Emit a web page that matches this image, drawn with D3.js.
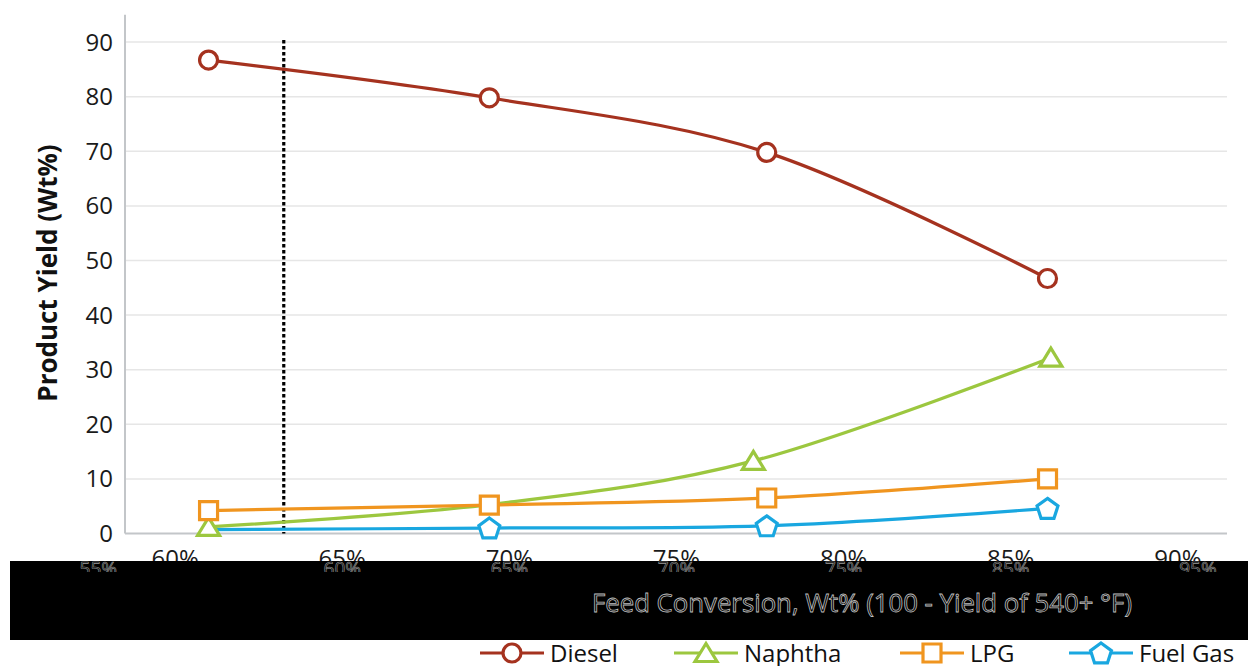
<!DOCTYPE html>
<html><head><meta charset="utf-8">
<script src="https://cdn.jsdelivr.net/npm/d3@7"></script>
<style>
html,body{margin:0;padding:0;background:#fff;}
svg{display:block;font-family:"Open Sans",sans-serif;}
</style></head>
<body>
<svg id="chart" width="1248" height="666"></svg>
<script>
// ---- data ----
const xTickValues = [60, 65, 70, 75, 80, 85, 90];
const xTickLabels = ["60%", "65%", "70%", "75%", "80%", "85%", "90%"];
const ghostTickPos = [57.7, 65.0, 70.0, 75.0, 80.0, 85.0, 90.6];
const ghostTickLabels = ["55%", "60%", "65%", "70%", "75%", "85%", "95%"];
const yTickValues = [0, 10, 20, 30, 40, 50, 60, 70, 80, 90];

const dieselX = [61.0, 69.4, 77.7, 86.1];
const dieselY = [86.7, 79.8, 69.8, 46.7];
const naphthaX = [61.0, 69.4, 77.3, 86.2];
const naphthaY = [1.2, 5.3, 13.3, 32.2];
const naphthaMarker = [true, false, true, true];
const lpgX = [61.0, 69.4, 77.7, 86.1];
const lpgY = [4.2, 5.2, 6.5, 10.0];
const fuelGasX = [61.0, 69.4, 77.7, 86.1];
const fuelGasY = [0.7, 1.0, 1.4, 4.6];
const fuelGasMarker = [false, true, true, true];
const cutLineX = 63.25;

const seriesNames = ["Diesel", "Naphtha", "LPG", "Fuel Gas"];
const yTitle = "Product Yield (Wt%)";
const xTitle = "Feed Conversion, Wt% (100 - Yield of 540+ °F)";

// ---- layout ----
const svg = d3.select("#chart");
const mLeft = 125, mRight = 1227, mTop = 14.8, mBottom = 533.5;
const x = d3.scaleLinear().domain([58.5, 91.47]).range([mLeft, mRight]);
const y = d3.scaleLinear().domain([0, 95]).range([mBottom, mTop]);

const colors = {Diesel: "#a5321f", Naphtha: "#9cc73f", LPG: "#f0951f", "Fuel Gas": "#19a7e0"};

// grid
svg.append("g").selectAll("line").data(yTickValues.filter(v => v > 0)).join("line")
  .attr("x1", mLeft).attr("x2", mRight)
  .attr("y1", d => y(d)).attr("y2", d => y(d))
  .attr("stroke", "#e6e6e6").attr("stroke-width", 1.5);

// axes lines
svg.append("line").attr("x1", mLeft).attr("x2", mLeft).attr("y1", mTop).attr("y2", mBottom)
  .attr("stroke", "#c3c6c9").attr("stroke-width", 2);
svg.append("line").attr("x1", mLeft).attr("x2", mRight).attr("y1", mBottom).attr("y2", mBottom)
  .attr("stroke", "#c3c6c9").attr("stroke-width", 2);

// y tick labels
svg.append("g").selectAll("text").data(yTickValues).join("text")
  .attr("x", 113).attr("y", d => y(d)).attr("dy", "0.35em")
  .attr("text-anchor", "end").attr("font-size", 24).attr("fill", "#1a1a1a")
  .text(d => d);

// y title
svg.append("text").attr("transform", "translate(57,273) rotate(-90)")
  .attr("text-anchor", "middle").attr("font-size", 26).attr("font-weight", "bold")
  .attr("fill", "#111").text(yTitle);

// x tick labels
svg.append("g").selectAll("text").data(xTickValues).join("text")
  .attr("x", d => x(d)).attr("y", 567)
  .attr("text-anchor", "middle").attr("font-size", 24).attr("fill", "#1a1a1a")
  .text((d, i) => xTickLabels[i]);

// dotted vertical line
svg.append("line").attr("x1", x(cutLineX)).attr("x2", x(cutLineX))
  .attr("y1", 40).attr("y2", mBottom)
  .attr("stroke", "#000").attr("stroke-width", 3.2).attr("stroke-dasharray", "3.5,2.5");

// series
const curve = d3.curveCardinal.tension(0);
const line = d3.line().x(d => x(d[0])).y(d => y(d[1])).curve(curve);
const series = [
  {name: "Diesel", xs: dieselX, ys: dieselY, shape: "circle", show: dieselX.map(() => true)},
  {name: "Naphtha", xs: naphthaX, ys: naphthaY, shape: "triangle", show: naphthaMarker},
  {name: "LPG", xs: lpgX, ys: lpgY, shape: "square", show: lpgX.map(() => true)},
  {name: "Fuel Gas", xs: fuelGasX, ys: fuelGasY, shape: "pentagon", show: fuelGasMarker}
];

function shapePath(shape) {
  if (shape === "circle") return d3.symbol(d3.symbolCircle, Math.PI * 81)();
  if (shape === "square") return "M-9,-9H9V9H-9Z";
  if (shape === "triangle") return "M0,-9.5L11,8.5L-11,8.5Z";
  const R = 11, pts = [];
  for (let k = 0; k < 5; k++) {
    const a = -Math.PI / 2 + k * 2 * Math.PI / 5;
    pts.push([R * Math.cos(a), R * Math.sin(a) + 1]);
  }
  return "M" + pts.map(p => p.join(",")).join("L") + "Z";
}

series.forEach(s => {
  const pts = s.xs.map((v, i) => [v, s.ys[i]]);
  svg.append("path").datum(pts).attr("d", line)
    .attr("fill", "none").attr("stroke", colors[s.name]).attr("stroke-width", 3.2);
});
[series[3], series[1], series[2], series[0]].forEach(s => {
  const pts = s.xs.map((v, i) => [v, s.ys[i], s.show[i]]).filter(p => p[2]);
  svg.append("g").selectAll("path").data(pts).join("path")
    .attr("transform", d => `translate(${x(d[0])},${y(d[1])})`)
    .attr("d", shapePath(s.shape))
    .attr("fill", "#fff").attr("stroke", colors[s.name]).attr("stroke-width", 3.2);
});

// black band
svg.append("rect").attr("x", 10).attr("y", 561).attr("width", 1238).attr("height", 79).attr("fill", "#000");

// ghost tick labels inside band
svg.append("clipPath").attr("id", "ghostclip").append("rect")
  .attr("x", 0).attr("y", 561).attr("width", 1248).attr("height", 11);
svg.append("g").attr("clip-path", "url(#ghostclip)").selectAll("text").data(ghostTickPos).join("text")
  .attr("x", d => x(d)).attr("y", 575)
  .attr("text-anchor", "middle").attr("font-size", 19)
  .attr("fill", "none").attr("stroke", "#9a9a9a").attr("stroke-width", 0.6)
  .text((d, i) => ghostTickLabels[i]);

// x title (outlined)
svg.append("text").attr("x", 862).attr("y", 612)
  .attr("text-anchor", "middle").attr("font-size", 25)
  .attr("textLength", 540).attr("lengthAdjust", "spacingAndGlyphs")
  .attr("fill", "#000").attr("stroke", "#bdbdbd").attr("stroke-width", 0.8)
  .text(xTitle);

// legend
const legendX = [480, 674, 900, 1069];
const legend = svg.append("g");
series.forEach((s, i) => {
  const g = legend.append("g").attr("transform", `translate(${legendX[i]},653)`);
  g.append("line").attr("x1", 0).attr("x2", 64).attr("y1", 0).attr("y2", 0)
    .attr("stroke", colors[s.name]).attr("stroke-width", 3.2);
  g.append("path").attr("transform", "translate(32,0)").attr("d", shapePath(s.shape))
    .attr("fill", "#fff").attr("stroke", colors[s.name]).attr("stroke-width", 3.2);
  g.append("text").attr("x", 70).attr("y", 9).attr("font-size", 24).attr("fill", "#111")
    .text(s.name);
});
</script>
</body></html>
